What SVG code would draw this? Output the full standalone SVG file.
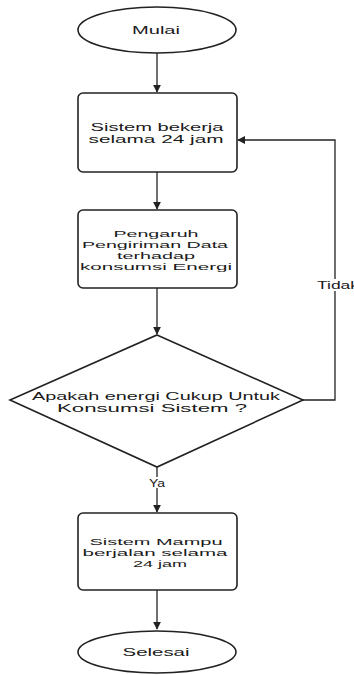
<svg xmlns="http://www.w3.org/2000/svg" width="354" height="675" viewBox="0 0 354 675">
<style>
.sh{fill:#fff;stroke:#222;stroke-width:1.6}
.t{font-family:"Liberation Sans",Arial,sans-serif;font-size:11px;fill:#1a1a1a;text-anchor:middle}
.s{font-size:9.5px}
.c{fill:none;stroke:#222;stroke-width:1.3}
</style>
<defs>
<marker id="ah" viewBox="0 0 10 10" refX="9" refY="5" markerWidth="8" markerHeight="8" markerUnits="userSpaceOnUse" orient="auto"><path d="M0,0 L10,5 L0,10 z" fill="#222"/></marker>
</defs>
<rect width="354" height="675" fill="#fff"/>
<g id="connectors">
<line class="c" x1="157" y1="53" x2="157" y2="92" marker-end="url(#ah)"/>
<line class="c" x1="157" y1="172" x2="157" y2="209" marker-end="url(#ah)"/>
<line class="c" x1="157" y1="288" x2="157" y2="334" marker-end="url(#ah)"/>
<line class="c" x1="157" y1="467" x2="157" y2="512" marker-end="url(#ah)"/>
<line class="c" x1="157" y1="590" x2="157" y2="629" marker-end="url(#ah)"/>
<polyline class="c" points="303,400 335,400 335,140 238,140" marker-end="url(#ah)"/>
<rect x="148" y="477" width="18" height="11" fill="#fff"/>
<text class="t" x="157" y="487" textLength="16" lengthAdjust="spacingAndGlyphs">Ya</text>
<rect x="316" y="279" width="38" height="12" fill="#fff"/>
<text class="t" x="338" y="289" textLength="42" lengthAdjust="spacingAndGlyphs">Tidak</text>
</g>
<g id="mulai">
<ellipse class="sh" cx="157" cy="30" rx="79" ry="23"/>
<text class="t" x="156" y="34" textLength="48" lengthAdjust="spacingAndGlyphs">Mulai</text>
</g>
<g id="sistem-bekerja">
<rect class="sh" x="78" y="93" width="159" height="79" rx="5"/>
<text class="t" x="157" y="131" textLength="133" lengthAdjust="spacingAndGlyphs">Sistem bekerja</text>
<text class="t" x="156" y="143" textLength="135" lengthAdjust="spacingAndGlyphs">selama 24 jam</text>
</g>
<g id="pengaruh">
<rect class="sh" x="78" y="210" width="159" height="78" rx="5"/>
<text class="t s" x="156" y="237" textLength="85" lengthAdjust="spacingAndGlyphs">Pengaruh</text>
<text class="t s" x="155" y="248" textLength="146" lengthAdjust="spacingAndGlyphs">Pengiriman Data</text>
<text class="t s" x="156" y="259" textLength="78" lengthAdjust="spacingAndGlyphs">terhadap</text>
<text class="t s" x="156" y="270" textLength="152" lengthAdjust="spacingAndGlyphs">konsumsi Energi</text>
</g>
<g id="keputusan">
<polygon class="sh" points="157,335 303,400 157,467 10,400"/>
<text class="t" x="156" y="400" textLength="248" lengthAdjust="spacingAndGlyphs">Apakah energi Cukup Untuk</text>
<text class="t" x="152" y="412" textLength="190" lengthAdjust="spacingAndGlyphs">Konsumsi Sistem ?</text>
</g>
<g id="sistem-mampu">
<rect class="sh" x="78" y="513" width="159" height="77" rx="5"/>
<text class="t s" x="156" y="545" textLength="133" lengthAdjust="spacingAndGlyphs">Sistem Mampu</text>
<text class="t s" x="155" y="556" textLength="145" lengthAdjust="spacingAndGlyphs">berjalan selama</text>
<text class="t s" x="160" y="567" textLength="54" lengthAdjust="spacingAndGlyphs">24 jam</text>
</g>
<g id="selesai">
<ellipse class="sh" cx="157" cy="652" rx="79" ry="21"/>
<text class="t" x="156" y="656" textLength="67" lengthAdjust="spacingAndGlyphs">Selesai</text>
</g>
</svg>
